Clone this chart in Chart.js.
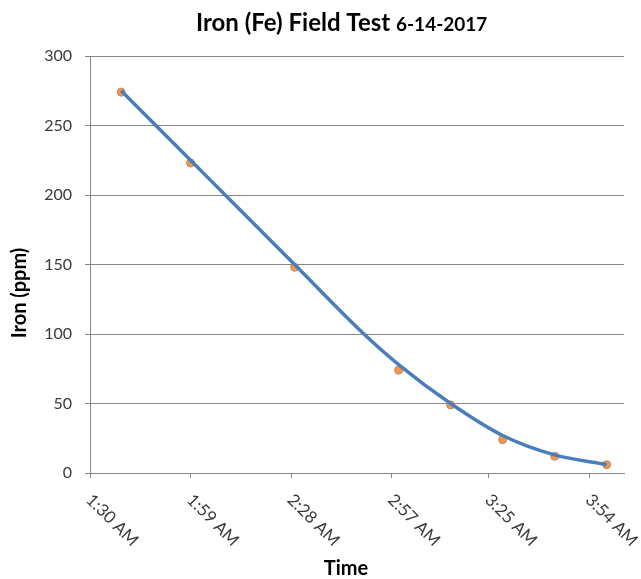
<!DOCTYPE html>
<html>
<head>
<meta charset="utf-8">
<script src="https://cdn.jsdelivr.net/npm/chart.js@4.4.0/dist/chart.umd.min.js"></script>
<style>
    body { margin: 0; background: #fff; }
    #wrap { width: 641px; height: 579px; }
</style>
</head>
<body>
<div id="wrap"><canvas id="iron-chart" width="641" height="579"></canvas></div>
<script>
// Field readings (time of sample, iron in ppm)
const sampleTimes = ['1:39', '1:59', '2:29', '2:59', '3:14', '3:29', '3:44', '3:59'];
const ironValues = [274, 223, 148, 74, 49, 24, 12, 6];

// Trendline
const trendTimes = ['1:39', '1:59', '2:09', '2:29', '2:49', '2:59', '3:14', '3:29', '3:44', '3:59'];
const trendValues = [275, 225, 200, 150, 100, 78, 50, 27, 13, 6];

// Axis ticks
const timeTickLabels = ['1:30 AM', '1:59 AM', '2:28 AM', '2:57 AM', '3:25 AM', '3:54 AM'];
const timeAxisMin = '1:30';
const timeAxisMax = '4:04';
const ironTicks = [0, 50, 100, 150, 200, 250, 300];

// minutes after midnight
function toMin(t) {
    const parts = t.replace(' AM', '').split(':');
    return parseInt(parts[0], 10) * 60 + parseInt(parts[1], 10);
}

const gridColor = '#868686';
const labelColor = '#3a3a3a';

// Title, axis titles and the slanted time labels
const textPlugin = {
    id: 'textPlugin',
    afterDraw(chart) {
        const ctx = chart.ctx;
        const xScale = chart.scales.x;
        ctx.save();

        // main title with the smaller date
        ctx.fillStyle = '#000';
        ctx.textBaseline = 'alphabetic';
        ctx.textAlign = 'left';
        ctx.font = 'bold 24px Lato';
        const mainText = 'Iron (Fe) Field Test ';
        ctx.fillText(mainText, 196, 31);
        const w = ctx.measureText(mainText).width;
        ctx.font = 'bold 19px Lato';
        ctx.fillText('6-14-2017', 196 + w, 31);

        // axis titles
        ctx.font = 'bold 20px Lato';
        ctx.textAlign = 'center';
        ctx.textBaseline = 'middle';
        ctx.fillText('Time', 346, 569);
        ctx.save();
        ctx.translate(20, 293);
        ctx.rotate(-Math.PI / 2);
        ctx.fillText('Iron (ppm)', 0, 0);
        ctx.restore();

        // rotated tick labels on the time axis
        ctx.font = '17px Lato';
        ctx.fillStyle = labelColor;
        ctx.textAlign = 'left';
        ctx.textBaseline = 'middle';
        xScale.ticks.forEach((tick, i) => {
            const px = xScale.getPixelForValue(tick.value);
            ctx.save();
            ctx.translate(px - 1, xScale.top + 24);
            ctx.rotate(Math.PI / 4);
            ctx.fillText(timeTickLabels[i], 0, 0);
            ctx.restore();
        });

        ctx.restore();
    }
};

const ctx = document.getElementById('iron-chart').getContext('2d');
const ironChart = new Chart(ctx, {
    type: 'scatter',
    data: {
        datasets: [{
            label: 'Trend',
            data: trendTimes.map((t, i) => ({ x: toMin(t), y: trendValues[i] })),
            showLine: true,
            borderColor: '#4A7EBB',
            borderWidth: 3.5,
            pointRadius: 0,
            cubicInterpolationMode: 'monotone',
            order: 0
        }, {
            label: 'Iron (ppm)',
            data: sampleTimes.map((t, i) => ({ x: toMin(t), y: ironValues[i] })),
            backgroundColor: '#F79646',
            borderColor: '#B98A6E',
            borderWidth: 1,
            pointRadius: 4,
            order: 1
        }]
    },
    options: {
        responsive: false,
        animation: false,
        layout: {
            padding: { left: 0, right: 17, top: 56, bottom: 0 }
        },
        plugins: {
            legend: { display: false },
            tooltip: { enabled: false }
        },
        scales: {
            x: {
                type: 'linear',
                min: toMin(timeAxisMin),
                max: toMin(timeAxisMax),
                afterBuildTicks: function(scale) {
                    scale.ticks = timeTickLabels.map(l => ({ value: toMin(l) }));
                },
                afterFit: function(scale) {
                    scale.height = 106;
                },
                ticks: { display: false },
                grid: {
                    drawOnChartArea: false,
                    drawTicks: true,
                    tickLength: 5,
                    color: gridColor
                },
                border: { color: gridColor, width: 1 }
            },
            y: {
                min: 0,
                max: 300,
                afterBuildTicks: function(scale) {
                    scale.ticks = ironTicks.map(v => ({ value: v }));
                },
                afterFit: function(scale) {
                    scale.width = 90;
                },
                ticks: {
                    padding: 13,
                    color: labelColor,
                    font: { family: 'Lato', size: 16 }
                },
                grid: {
                    color: gridColor,
                    tickLength: 5,
                    lineWidth: 1
                },
                border: { color: gridColor, width: 1 }
            }
        }
    },
    plugins: [textPlugin]
});
</script>
</body>
</html>
